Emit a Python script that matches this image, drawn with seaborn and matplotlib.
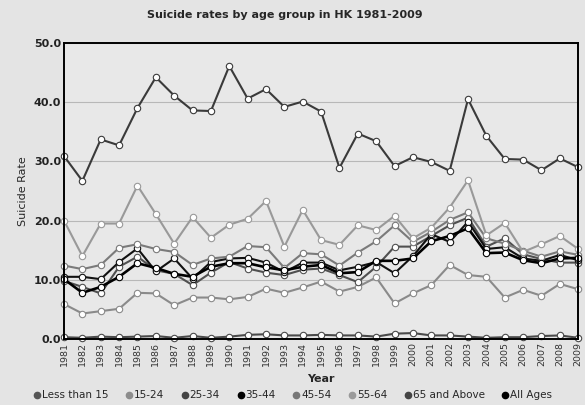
import pandas as pd
import matplotlib
matplotlib.use("Agg")
import matplotlib.pyplot as plt
from matplotlib.lines import Line2D
import seaborn as sns

# data (suicide rate per 100,000)
years = list(range(1981, 2010))

less_than_15 = [0.3, 0.2, 0.4, 0.3, 0.4, 0.5, 0.2, 0.5, 0.2, 0.4, 0.7, 0.8, 0.6, 0.6, 0.7,
                0.6, 0.6, 0.4, 0.9, 1.0, 0.6, 0.6, 0.4, 0.2, 0.3, 0.3, 0.5, 0.6, 0.2]
age_15_24 = [5.9, 4.3, 4.7, 5.1, 7.8, 7.7, 5.7, 7.0, 7.0, 6.7, 7.1, 8.5, 7.8, 8.7, 9.7,
             8.0, 8.8, 10.4, 6.0, 7.7, 9.1, 12.5, 10.8, 10.5, 7.0, 8.3, 7.3, 9.3, 8.4]
age_25_34 = [9.8, 8.8, 7.7, 12.2, 13.9, 11.6, 11.0, 9.1, 11.2, 13.0, 11.9, 11.2, 10.8, 11.7, 11.9,
             10.8, 9.6, 12.2, 15.6, 15.6, 17.4, 19.2, 20.5, 15.6, 17.0, 14.3, 13.5, 12.9, 12.9]
age_35_44 = [10.5, 10.5, 10.1, 13.0, 15.3, 11.4, 13.6, 10.2, 13.0, 13.6, 13.7, 12.9, 11.3, 12.9, 12.9,
             11.6, 12.2, 13.0, 11.1, 14.0, 17.7, 16.4, 19.8, 15.2, 15.5, 13.6, 13.2, 14.2, 13.3]
age_45_54 = [12.4, 11.8, 12.5, 15.4, 16.0, 15.2, 14.7, 12.5, 13.6, 13.9, 15.7, 15.5, 12.0, 14.5, 14.3,
             12.4, 14.6, 16.5, 19.2, 16.4, 18.1, 20.1, 21.4, 17.0, 16.1, 14.9, 13.9, 14.8, 14.2]
age_55_64 = [20.0, 14.0, 19.5, 19.5, 25.9, 21.1, 16.1, 20.6, 17.1, 19.3, 20.3, 23.3, 15.6, 21.8, 16.7,
             15.9, 19.2, 18.4, 20.8, 17.0, 18.8, 22.2, 26.8, 17.5, 19.6, 14.7, 16.0, 17.4, 15.2]
age_65_up = [30.9, 26.7, 33.7, 32.7, 39.0, 44.2, 41.1, 38.6, 38.5, 46.1, 40.6, 42.2, 39.2, 40.1, 38.4,
             28.9, 34.7, 33.4, 29.2, 30.7, 29.9, 28.4, 40.5, 34.3, 30.4, 30.3, 28.5, 30.5, 29.0]
all_ages = [10.1, 7.8, 8.8, 10.5, 12.8, 12.0, 11.0, 10.5, 12.2, 12.8, 12.8, 12.1, 11.6, 12.2, 12.5,
            11.1, 11.3, 13.2, 13.2, 13.6, 16.5, 17.4, 18.7, 14.5, 14.6, 13.3, 12.8, 13.6, 13.7]

groups = ["Less than 15", "15-24", "25-34", "35-44", "45-54", "55-64", "65 and Above", "All Ages"]
series = [less_than_15, age_15_24, age_25_34, age_35_44, age_45_54, age_55_64, age_65_up, all_ages]
colors = ["#4a4a4a", "#8a8a8a", "#505050", "#111111", "#7a7a7a", "#999999", "#3a3a3a", "#000000"]
legend_colors = ["#555555", "#8c8c8c", "#444444", "#000000", "#777777", "#9a9a9a", "#444444", "#000000"]

rows = []
for g, vals in zip(groups, series):
    for y, v in zip(years, vals):
        rows.append({"Year": y, "Rate": v, "Group": g})
df = pd.DataFrame(rows)

sns.set_style("white")
plt.rcParams["font.family"] = ["DejaVu Sans"]

fig = plt.figure(figsize=(5.85, 4.05), dpi=100, facecolor="#e4e4e4")
ax = fig.add_axes([0.1094, 0.163, 0.879, 0.731])
ax.set_facecolor("#e8e8e8")

sns.lineplot(data=df, x="Year", y="Rate", hue="Group", hue_order=groups,
             palette=dict(zip(groups, colors)), marker="o", markersize=4.6,
             linewidth=1.5, legend=False, ax=ax)

# white filled markers with a coloured edge, like the original
for line in ax.lines:
    line.set_markerfacecolor("white")
    line.set_markeredgecolor(line.get_color())
    line.set_markeredgewidth(0.8)
    line.set_clip_on(False)
# the all ages line is a bit heavier
ax.lines[-1].set_linewidth(1.9)

ax.set_xlim(1981, 2009)
ax.set_ylim(0, 50)
ax.set_xticks(years)
ax.set_xticklabels([str(y) for y in years], rotation=90, fontsize=6.8, color="#333333")
ax.set_yticks([0, 10, 20, 30, 40, 50])
ax.set_yticklabels(["%.1f" % v for v in [0, 10, 20, 30, 40, 50]], fontsize=8,
                   fontweight="bold", color="#222222")
ax.tick_params(axis="both", length=0, pad=2)
ax.yaxis.grid(True, color="#b8b8b8", linewidth=0.8)
ax.set_axisbelow(True)
for side in ax.spines.values():
    side.set_color("black")
    side.set_linewidth(1.4)

ax.set_xlabel("Year", fontsize=8, fontweight="bold", labelpad=6)
ax.set_ylabel("Suicide Rate", fontsize=8, labelpad=4)
fig.text(0.487, 0.963, "Suicide rates by age group in HK 1981-2009",
         ha="center", va="center", fontsize=8, fontweight="bold")

handles = [Line2D([], [], linestyle="none", marker="o", markersize=4.5,
                  markerfacecolor=c, markeredgecolor=c) for c in legend_colors]
fig.legend(handles, groups, loc="center", bbox_to_anchor=(0.5, 0.024), ncol=8,
           frameon=False, fontsize=7.5, handletextpad=0.05, columnspacing=1.6,
           handlelength=0.8, borderaxespad=0)

plt.savefig("out.png", dpi=100, facecolor=fig.get_facecolor())
